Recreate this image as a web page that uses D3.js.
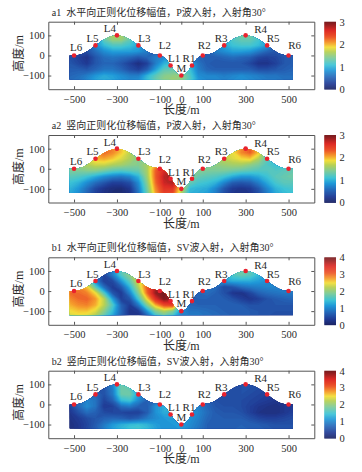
<!DOCTYPE html>
<html>
<head>
<meta charset="utf-8">
<script src="https://cdn.jsdelivr.net/npm/d3@7"></script>
<style>
html, body { margin: 0; padding: 0; background: #fff; }
svg { display: block; }
text { font-family: "Liberation Serif", serif; fill: #2a2a2a; }
.cjk { font-family: "Liberation Serif", "Noto Sans CJK SC", serif; }
</style>
</head>
<body>
<svg width="362" height="472"></svg>
<script>
// grid nodes of the amplitude fields
const gridX = [-520, -480, -440, -400, -360, -320, -280, -240, -200, -160, -120, -80, -40, 0, 40, 80, 120, 160, 200, 240, 280, 320, 360, 400, 440, 480, 520];
const gridY = [110, 80, 50, 20, -10, -40, -70, -100, -130];

const fieldA1 = [
  .6, .6, .6, .8, 1.4, 1.65, 1.65, 1.4, .9, .6, .5, .5, .5, .5, .5, .5, .5, .7, 1.0, 1.2, 1.4, 1.4, 1.2, .9, .6, .5, .5,
  .5, .5, .6, .8, 1.3, 1.55, 1.55, 1.3, 1.0, .6, .5, .5, .5, .5, .5, .5, .5, .7, 1.0, 1.2, 1.3, 1.3, 1.15, .9, .6, .5, .5,
  .5, .5, .5, .8, 1.05, 1.2, 1.2, 1.1, .95, .7, .5, .5, .5, .5, .5, .5, .6, .8, .95, 1.1, 1.15, 1.15, 1.05, .9, .6, .5, .5,
  .4, .4, .4, .6, .8, .9, .9, .9, .85, .7, .55, .5, .5, .5, .5, .5, .55, .7, .8, .9, .9, .85, .7, .55, .45, .45, .5,
  .4, .3, .2, .45, .6, .65, .6, .55, .45, .55, .7, .8, .8, .8, .7, .55, .5, .5, .55, .6, .55, .5, .35, .3, .35, .45, .5,
  .45, .35, .25, .45, .55, .55, .45, .3, .15, .3, .7, 1.0, 1.1, 1.1, 1.0, .65, .5, .45, .45, .45, .45, .35, .2, .2, .3, .45, .5,
  .5, .5, .45, .55, .65, .65, .55, .4, .3, .5, .9, 1.25, 1.3, 1.35, 1.1, .7, .55, .5, .5, .5, .5, .5, .4, .4, .45, .5, .55,
  .55, .6, .7, .85, .95, .9, .8, .7, .7, 1.0, 1.25, 1.45, 1.5, 1.5, 1.2, .8, .75, .75, .7, .75, .8, .75, .7, .65, .65, .6, .6,
  .6, .65, .8, .95, 1.0, .95, .85, .8, .85, 1.1, 1.35, 1.5, 1.6, 1.55, 1.25, .9, .8, .8, .75, .8, .85, .8, .75, .7, .7, .65, .6
];

const fieldA2 = [
  1.55, 1.7, 1.9, 2.15, 2.25, 2.2, 2.0, 1.7, 1.45, 1.4, 1.5, 1.8, 2.1, 2.1, 1.6, 1.6, 1.6, 1.65, 1.75, 1.85, 2.15, 2.35, 2.0, 1.4, 1.15, 1.05, 1.05,
  1.55, 1.7, 1.9, 2.15, 2.25, 2.15, 1.95, 1.7, 1.45, 1.4, 1.5, 1.9, 2.2, 2.1, 1.6, 1.6, 1.6, 1.65, 1.75, 1.85, 2.15, 2.3, 1.95, 1.35, 1.15, 1.05, 1.05,
  1.55, 1.65, 1.8, 2.0, 2.05, 1.95, 1.8, 1.65, 1.45, 1.5, 1.8, 2.3, 2.4, 2.1, 1.6, 1.55, 1.55, 1.6, 1.7, 1.8, 1.9, 1.95, 1.65, 1.25, 1.1, 1.05, 1.05,
  1.45, 1.55, 1.65, 1.75, 1.75, 1.65, 1.6, 1.5, 1.45, 1.6, 2.1, 2.5, 2.6, 2.2, 1.6, 1.55, 1.5, 1.5, 1.55, 1.6, 1.6, 1.5, 1.4, 1.2, 1.1, 1.1, 1.15,
  1.4, 1.4, 1.45, 1.45, 1.35, 1.25, 1.2, 1.25, 1.3, 1.6, 2.3, 2.65, 2.8, 2.2, 1.55, 1.45, 1.4, 1.4, 1.4, 1.35, 1.3, 1.25, 1.2, 1.2, 1.2, 1.25, 1.3,
  1.25, 1.2, 1.1, .95, .8, .7, .65, .75, 1.0, 1.55, 2.3, 2.75, 2.85, 2.2, 1.5, 1.3, 1.25, 1.2, 1.1, .95, .85, .85, .95, 1.1, 1.25, 1.3, 1.35,
  1.1, 1.0, .8, .6, .45, .3, .3, .4, .8, 1.45, 2.25, 2.7, 2.8, 2.1, 1.3, 1.15, 1.1, 1.0, .75, .5, .45, .5, .7, .95, 1.15, 1.25, 1.25,
  1.0, .85, .6, .35, .2, .12, .1, .22, .7, 1.35, 2.15, 2.55, 2.55, 1.75, 1.05, 1.0, .95, .75, .45, .25, .2, .25, .45, .75, 1.0, 1.1, 1.15,
  .95, .8, .55, .3, .18, .1, .1, .18, .65, 1.3, 2.05, 2.45, 2.35, 1.65, 1.0, .95, .9, .7, .4, .22, .18, .22, .4, .7, .95, 1.05, 1.1
];

const fieldB1 = [
  2.8, 2.6, 1.9, .9, .5, 1.0, 1.7, 2.0, 2.5, 3.1, 3.5, 3.6, 3.0, 1.0, .8, .9, 1.0, 1.2, 1.5, 1.75, 1.85, 1.75, 1.45, 1.2, 1.1, 1.0, 1.0,
  2.8, 2.65, 2.0, .9, .45, .95, 1.6, 2.0, 2.5, 3.1, 3.5, 3.6, 3.0, 1.0, .8, .9, 1.0, 1.15, 1.4, 1.6, 1.75, 1.65, 1.4, 1.2, 1.1, 1.0, 1.0,
  2.9, 2.75, 2.15, 1.0, .4, .5, 1.15, 1.7, 2.4, 3.0, 3.5, 3.8, 3.3, 1.1, .8, .9, 1.0, 1.1, 1.2, 1.3, 1.3, 1.3, 1.2, 1.1, 1.05, 1.0, 1.0,
  2.95, 2.9, 2.6, 1.65, .8, .35, .65, 1.35, 2.2, 3.1, 3.75, 3.95, 3.5, 1.2, .75, .85, .95, .8, .5, .6, .8, .9, .95, 1.0, 1.0, 1.0, 1.0,
  3.0, 3.0, 2.9, 2.5, 1.6, .6, .35, 1.0, 1.9, 3.0, 3.85, 4.0, 3.7, 1.6, .7, .75, .8, .7, .55, .3, .25, .45, .7, .8, .85, .9, .9,
  2.85, 3.0, 3.05, 2.8, 2.25, 1.2, .4, .6, 1.5, 2.5, 3.45, 3.95, 3.8, 1.7, .7, .7, .7, .7, .65, .55, .4, .3, .4, .55, .65, .7, .75,
  2.7, 2.85, 2.9, 2.7, 2.25, 1.6, .7, .35, .9, 1.9, 2.7, 3.2, 3.3, 1.6, .75, .7, .7, .7, .7, .7, .65, .55, .55, .6, .6, .6, .6,
  2.5, 2.6, 2.6, 2.4, 1.95, 1.4, .75, .25, .35, 1.1, 1.9, 2.2, 1.9, 1.05, .85, .85, .8, .75, .7, .7, .7, .65, .6, .55, .55, .55, .55,
  2.3, 2.4, 2.35, 2.1, 1.65, 1.2, .7, .3, .2, .6, 1.3, 1.6, 1.4, 1.0, .95, .95, .85, .8, .75, .7, .7, .65, .6, .55, .5, .5, .5
];

const fieldB2 = [
  .6, .6, .6, .6, .6, 1.0, 1.7, 1.5, .9, .6, .6, .7, .9, .9, .9, .7, .6, .5, .5, .5, .55, .55, .5, .45, .4, .4, .4,
  .6, .6, .6, .6, .6, .95, 1.8, 1.7, 1.0, .6, .6, .7, .9, .9, .9, .7, .6, .5, .5, .5, .55, .55, .5, .45, .4, .4, .4,
  .6, .7, .75, .75, .55, .9, 1.75, 1.8, 1.2, .7, .6, .7, .9, 1.0, 1.0, .75, .6, .5, .5, .5, .55, .5, .45, .4, .35, .35, .4,
  .5, .75, 1.0, .85, .45, .7, 1.4, 1.5, 1.05, .7, .8, 1.0, 1.1, 1.1, 1.1, .85, .7, .55, .5, .5, .5, .45, .4, .35, .3, .3, .35,
  .4, .75, 1.05, .85, .35, .4, .8, .9, .7, .65, 1.1, 1.3, 1.3, 1.2, 1.15, .95, .75, .6, .55, .55, .5, .4, .3, .25, .2, .3, .35,
  .3, .55, .8, .7, .5, .45, .45, .4, .4, .65, 1.1, 1.3, 1.25, 1.2, 1.15, 1.0, .8, .65, .6, .6, .55, .4, .25, .2, .2, .3, .4,
  .25, .35, .5, .6, .7, .75, .7, .6, .7, .9, 1.05, 1.15, 1.2, 1.2, 1.1, .95, .75, .65, .65, .65, .65, .55, .45, .4, .4, .45, .5,
  .2, .3, .45, .65, .9, 1.15, 1.3, 1.4, 1.45, 1.35, 1.2, 1.1, 1.15, 1.2, 1.05, .9, .7, .65, .65, .7, .7, .7, .65, .6, .55, .55, .55,
  .2, .3, .5, .7, 1.0, 1.25, 1.4, 1.55, 1.6, 1.45, 1.25, 1.1, 1.1, 1.15, 1.0, .85, .7, .65, .65, .7, .75, .7, .7, .65, .6, .55, .55
];

// ground profile
const terrainX = [-520, -500, -450, -400, -350, -300, -250, -200, -150, -100, -75, -50, -25, 0, 25, 50, 75, 100, 150, 200, 250, 300, 350, 400, 450, 500, 520];
const terrainY = [0, 0, 14, 50, 85, 100, 85, 50, 14, 0, -14, -50, -85, -100, -85, -50, -14, 0, 14, 50, 85, 100, 85, 50, 14, 0, 0];

// stations
const stationNames = ["L6", "L5", "L4", "L3", "L2", "L1", "M", "R1", "R2", "R3", "R4", "R5", "R6"];
const stationX = [-500, -400, -300, -200, -100, -50, 0, 50, 100, 200, 300, 400, 500];
const stationY = [0, 50, 100, 50, 0, -50, -100, -50, 0, 50, 100, 50, 0];
const labelDx = [2, -3, -7, 6, 5, 3.5, 0, -3, 1.5, -3, 15, 6, 6];
const labelDy = [-4, -3.5, -3, -3.5, -6, -3, -4, -3, -6, -3.5, -2, -3.5, -6];

const xTicks = [-500, -300, -100, 0, 100, 300, 500];
const yTicks = [100, 0, -100];

const titles = ["a1  水平向正则化位移幅值，P波入射，入射角30°", "a2  竖向正则化位移幅值，P波入射，入射角30°", "b1  水平向正则化位移幅值，SV波入射，入射角30°", "b2  竖向正则化位移幅值，SV波入射，入射角30°"];
const fields = [fieldA1, fieldA2, fieldB1, fieldB2];
const maxValues = [3, 3, 4, 4];
const panelTops = [21.7, 135, 257.3, 370.7];

const jetStops = ["#1c2566", "#203a94", "#2566b8", "#1f97d8", "#3cc3d6", "#7ccb9c", "#b5d056", "#f3df3a", "#f59a2c", "#ec5528", "#dd2a26", "#701a1e"];
const jetPos = [0, .08, .18, .28, .36, .46, .55, .62, .69, .77, .87, 1];

const svg = d3.select("svg");
const frameColor = "#555";

const x = d3.scaleLinear().domain([-620, 620]).range([48.3, 314.3]);

const contours = d3.contours().size([gridX.length, gridY.length]).smooth(true);

fields.forEach((values, i) => {
    const top = panelTops[i], height = 67.5;
    const vmax = maxValues[i];
    const y = d3.scaleLinear().domain([-168, 168]).range([height, 0]);
    const color = d3.scaleLinear().domain(jetPos.map(p => p * vmax)).range(jetStops);

    const g = svg.append("g").attr("transform", `translate(0, ${top})`);

    g.append("text")
        .attr("class", "cjk")
        .attr("x", 51.7)
        .attr("y", -6)
        .attr("font-size", 10)
        .style("white-space", "pre")
        .text(titles[i]);

    // clip the field to the ground profile
    const area = d3.area()
        .x((d, k) => x(terrainX[k]))
        .y0(y(-120))
        .y1((d) => y(d))
        .curve(d3.curveMonotoneX);
    g.append("clipPath").attr("id", `ground${i}`)
        .append("path").attr("d", area(terrainY));

    // contour coordinates run over the grid, node k sits at k + 0.5
    const dxGrid = gridX[1] - gridX[0], dyGrid = gridY[1] - gridY[0];
    const gridPath = d3.geoPath(d3.geoTransform({
        point(px, py) {
            this.stream.point(x(gridX[0] + (px - .5) * dxGrid), y(gridY[0] + (py - .5) * dyGrid));
        }
    }));
    const thresholds = d3.range(0, vmax, vmax / 80);
    g.append("g").attr("clip-path", `url(#ground${i})`)
        .selectAll("path")
        .data(contours.thresholds(thresholds)(values))
        .enter().append("path")
        .attr("d", gridPath)
        .attr("fill", d => color(d.value));

    // axes, ticks point inward on all four sides
    const xAxis = g.append("g").attr("transform", `translate(0, ${height})`)
        .call(d3.axisBottom(x).tickValues(xTicks).tickSize(-3).tickSizeOuter(0).tickPadding(6));
    const yAxis = g.append("g").attr("transform", "translate(48.3, 0)")
        .call(d3.axisLeft(y).tickValues(yTicks).tickSize(-3).tickSizeOuter(0).tickPadding(3.5));
    const topAxis = g.append("g")
        .call(d3.axisTop(x).tickValues(xTicks).tickSize(-3).tickSizeOuter(0).tickFormat(""));
    const rightAxis = g.append("g").attr("transform", "translate(314.3, 0)")
        .call(d3.axisRight(y).tickValues(yTicks).tickSize(-3).tickSizeOuter(0).tickFormat(""));
    [xAxis, yAxis, topAxis, rightAxis].forEach(a => {
        a.selectAll("path, line").attr("stroke", frameColor).attr("stroke-width", 1);
        a.selectAll("text").attr("font-size", 10.5).attr("font-family", "Liberation Serif").attr("fill", "#2a2a2a");
    });

    // stations
    g.selectAll(".station")
        .data(stationNames)
        .enter().append("circle")
        .attr("cx", (d, k) => x(stationX[k]))
        .attr("cy", (d, k) => y(stationY[k]))
        .attr("r", 2.3)
        .attr("fill", "#e9222e");
    g.selectAll(".stationLabel")
        .data(stationNames)
        .enter().append("text")
        .attr("x", (d, k) => x(stationX[k]) + labelDx[k])
        .attr("y", (d, k) => y(stationY[k]) + labelDy[k])
        .attr("text-anchor", "middle")
        .attr("font-size", 11)
        .text(d => d);

    // axis titles
    g.append("text")
        .attr("class", "cjk")
        .attr("x", 181.3)
        .attr("y", height + 25)
        .attr("text-anchor", "middle")
        .attr("font-size", 12)
        .text("长度/m");
    g.append("text")
        .attr("class", "cjk")
        .attr("transform", `translate(23, ${height / 2 - 2}) rotate(-90)`)
        .attr("text-anchor", "middle")
        .attr("font-size", 12)
        .text("高度/m");

    // colorbar
    const barY = d3.scaleLinear().domain([0, vmax]).range([height, 0]);
    g.selectAll(".bar")
        .data(d3.range(0, vmax, vmax / 68))
        .enter().append("rect")
        .attr("x", 324.3)
        .attr("width", 11.7)
        .attr("y", d => barY(d + vmax / 68))
        .attr("height", height / 68 + .4)
        .attr("fill", d => color(d));
    const barAxis = g.append("g").attr("transform", "translate(336, 0)")
        .call(d3.axisRight(barY).tickValues(d3.range(0, vmax + 1)).tickSize(0).tickPadding(3.5).tickFormat(d3.format("d")));
    barAxis.select(".domain").remove();
    barAxis.selectAll("text").attr("font-size", 10.5).attr("font-family", "Liberation Serif").attr("fill", "#2a2a2a");
});
</script>
</body>
</html>
